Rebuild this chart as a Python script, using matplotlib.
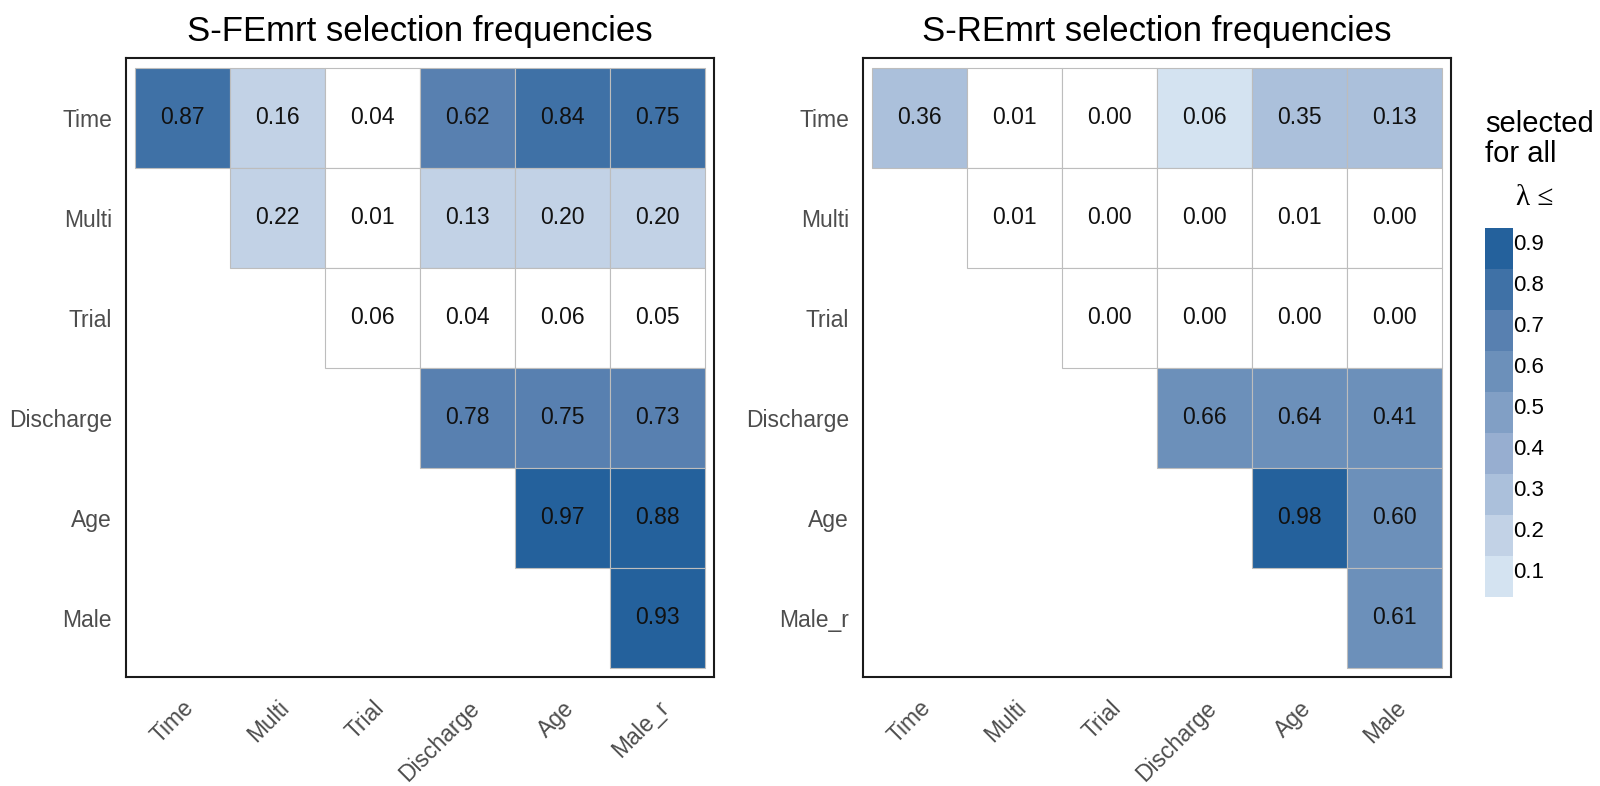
import numpy as np
import matplotlib
matplotlib.use('Agg')
import matplotlib.pyplot as plt
from matplotlib.colors import ListedColormap, BoundaryNorm
from matplotlib.patches import Rectangle

plt.rcParams['font.family'] = ['Liberation Sans', 'DejaVu Sans']

# ---- data ----
fe_rows = ['Time', 'Multi', 'Trial', 'Discharge', 'Age', 'Male']
fe_cols = ['Time', 'Multi', 'Trial', 'Discharge', 'Age', 'Male_r']
re_rows = ['Time', 'Multi', 'Trial', 'Discharge', 'Age', 'Male_r']
re_cols = ['Time', 'Multi', 'Trial', 'Discharge', 'Age', 'Male']

# selection frequencies (upper triangle, None = not shown)
fe_freq = [[0.87, 0.16, 0.04, 0.62, 0.84, 0.75],
           [None, 0.22, 0.01, 0.13, 0.20, 0.20],
           [None, None, 0.06, 0.04, 0.06, 0.05],
           [None, None, None, 0.78, 0.75, 0.73],
           [None, None, None, None, 0.97, 0.88],
           [None, None, None, None, None, 0.93]]
re_freq = [[0.36, 0.01, 0.00, 0.06, 0.35, 0.13],
           [None, 0.01, 0.00, 0.00, 0.01, 0.00],
           [None, None, 0.00, 0.00, 0.00, 0.00],
           [None, None, None, 0.66, 0.64, 0.41],
           [None, None, None, None, 0.98, 0.60],
           [None, None, None, None, None, 0.61]]

# "selected for all lambda <=" level (0 = never)
fe_lam = [[0.8, 0.2, 0.0, 0.7, 0.8, 0.8],
          [None, 0.2, 0.0, 0.2, 0.2, 0.2],
          [None, None, 0.0, 0.0, 0.0, 0.0],
          [None, None, None, 0.7, 0.7, 0.7],
          [None, None, None, None, 0.9, 0.9],
          [None, None, None, None, None, 0.9]]
re_lam = [[0.3, 0.0, 0.0, 0.1, 0.3, 0.3],
          [None, 0.0, 0.0, 0.0, 0.0, 0.0],
          [None, None, 0.0, 0.0, 0.0, 0.0],
          [None, None, None, 0.6, 0.6, 0.6],
          [None, None, None, None, 0.9, 0.6],
          [None, None, None, None, None, 0.6]]

lam_levels = [0.1, 0.2, 0.3, 0.4, 0.5, 0.6, 0.7, 0.8, 0.9]
step_colors = ['#d4e3f1', '#c2d2e6', '#abc0db', '#97aed0', '#819fc5',
               '#6c90ba', '#5880b0', '#3f71a6', '#24619c']

cmap = ListedColormap(['#ffffff'] + step_colors)
norm = BoundaryNorm(np.arange(-0.5, 10.5, 1), cmap.N)


def panel(ax, freq, lam, rows, cols, title):
    for i in range(len(rows)):
        for j in range(len(cols)):
            if freq[i][j] is None:
                continue
            col = cmap(norm(round(lam[i][j] * 10)))
            ax.add_patch(Rectangle((j, i), 1, 1, facecolor=col,
                                   edgecolor='#bdbdbd', linewidth=0.8))
            ax.text(j + 0.5, i + 0.5, '%.2f' % freq[i][j], ha='center', va='center',
                    fontsize=16.5, color='#111111')
    ax.set_xlim(-0.095, 6.095)
    ax.set_ylim(6.09, -0.1)
    ax.set_xticks(np.arange(6) + 0.5)
    ax.set_yticks(np.arange(6) + 0.5)
    ax.set_xticklabels(cols, rotation=45, ha='right', va='top', rotation_mode='anchor')
    ax.set_yticklabels(rows)
    ax.tick_params(length=0, labelsize=16.5, labelcolor='#4d4d4d')
    ax.tick_params(axis='x', pad=14)
    ax.tick_params(axis='y', pad=10)
    for sp in ax.spines.values():
        sp.set_linewidth(1.5)
        sp.set_color('#1a1a1a')
    ax.set_title(title, fontsize=25, pad=12)


fig = plt.figure(figsize=(16, 7.86), dpi=100)
ax1 = fig.add_axes([126 / 1600, 1 - 677 / 786, 588 / 1600, 619 / 786])
ax2 = fig.add_axes([863 / 1600, 1 - 677 / 786, 588 / 1600, 619 / 786])
panel(ax1, fe_freq, fe_lam, fe_rows, fe_cols, 'S-FEmrt selection frequencies')
panel(ax2, re_freq, re_lam, re_rows, re_cols, 'S-REmrt selection frequencies')

# legend (stepped colour bar)
cax = fig.add_axes([1485 / 1600, 1 - 597 / 786, 28 / 1600, 369 / 786])
steps = np.array(lam_levels).reshape(-1, 1) * 10
cax.pcolormesh([0, 1], np.arange(10), np.round(steps), cmap=cmap, norm=norm)
cax.set_xlim(0, 1)
cax.set_ylim(0, 9)
cax.set_xticks([])
cax.yaxis.tick_right()
cax.set_yticks(np.arange(1, 10) - 0.35)
cax.set_yticklabels(['%.1f' % v for v in lam_levels])
cax.tick_params(length=0, labelsize=16, pad=0, labelcolor='black')
for sp in cax.spines.values():
    sp.set_visible(False)

fig.text(1485 / 1600, 1 - 132 / 786, 'selected', fontsize=21, ha='left', va='baseline')
fig.text(1485 / 1600, 1 - 162 / 786, 'for all', fontsize=21, ha='left', va='baseline')
fig.text(1535 / 1600, 1 - 198 / 786, 'λ ≤', fontsize=21, ha='center', va='center',
         family=['Liberation Serif', 'DejaVu Serif'])

fig.savefig('out.png', dpi=100)
